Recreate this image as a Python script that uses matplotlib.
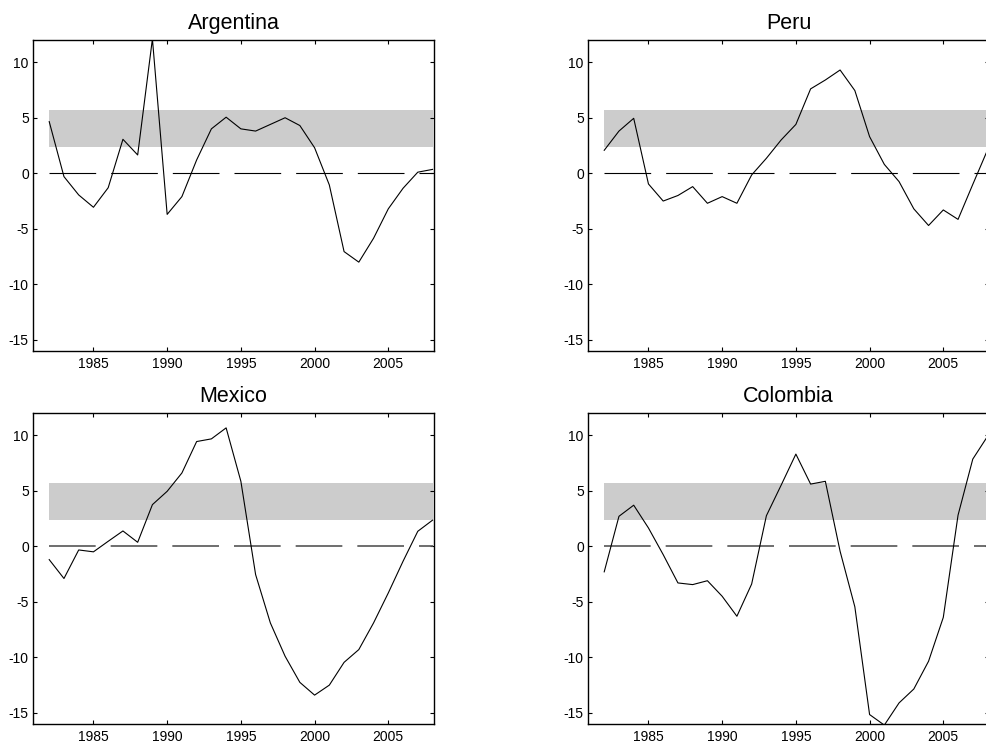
import matplotlib
matplotlib.use("Agg")
import matplotlib.pyplot as plt
import numpy as np

plt.rcParams['font.family'] = ['Liberation Sans', 'DejaVu Sans']
plt.rcParams['lines.scale_dashes'] = False
plt.rcParams['axes.unicode_minus'] = False

years = list(range(1982, 2009))

argentina = [4.65, -0.3, -1.95, -3.06, -1.3, 3.06, 1.65, 12.1, -3.7, -2.1,
             1.2, 4.0, 5.05, 4.0, 3.8, 4.4, 5.0, 4.3, 2.3, -1.05,
             -7.05, -8.0, -5.85, -3.2, -1.35, 0.1, 0.35]
peru = [2.07, 3.8, 4.95, -0.96, -2.5, -2.0, -1.2, -2.7, -2.1, -2.7,
        -0.15, 1.35, 3.0, 4.4, 7.6, 8.4, 9.3, 7.45, 3.3, 0.8,
        -0.75, -3.2, -4.7, -3.3, -4.15, -1.0, 2.1]
mexico = [-1.2, -2.9, -0.33, -0.5, 0.45, 1.38, 0.36, 3.75, 4.95, 6.6,
          9.43, 9.67, 10.66, 5.85, -2.55, -6.9, -9.9, -12.25, -13.4, -12.5,
          -10.45, -9.3, -6.9, -4.2, -1.35, 1.35, 2.35]
colombia = [-2.3, 2.7, 3.7, 1.65, -0.75, -3.3, -3.45, -3.1, -4.5, -6.3,
            -3.4, 2.75, 5.5, 8.3, 5.6, 5.85, -0.45, -5.45, -15.15, -16.1,
            -14.1, -12.85, -10.35, -6.4, 2.8, 7.85, 9.9]

countries = ["Argentina", "Peru", "Mexico", "Colombia"]
series = [argentina, peru, mexico, colombia]
band_low, band_high = 2.4, 5.7
yticks = [-15, -10, -5, 0, 5, 10]
xticks = [1985, 1990, 1995, 2000, 2005]

W, H = 987, 749
fig = plt.figure(figsize=(W / 100, H / 100), dpi=100)

def pos(left_px, top_px, w_px=401, h_px=311):
    return [left_px / W, (H - top_px - h_px) / H, w_px / W, h_px / H]

positions = [pos(33, 40), pos(588, 40), pos(33, 413), pos(588, 413)]
dash_colors = ['black', 'black', '#555555', '#555555']
dash_lw = [0.8, 0.8, 1.2, 1.2]

for name, vals, p, dc, dlw in zip(countries, series, positions, dash_colors, dash_lw):
    ax = fig.add_axes(p)
    ax.fill_between(years, [band_low] * len(years), [band_high] * len(years),
                    color='#cccccc', linewidth=0, zorder=1)
    ax.plot(years, [0] * len(years), color=dc, lw=dlw,
            linestyle=(0, (33.6, 10.8)), zorder=2)
    ax.plot(years, vals, color='black', lw=0.8, zorder=3)
    ax.set_xlim(1980.9, 2008.1)
    ax.set_ylim(-16, 12)
    ax.set_xticks(xticks)
    ax.set_yticks(yticks)
    ax.tick_params(direction='in', top=True, right=True, length=3.2,
                   width=0.8, labelsize=10)
    ax.tick_params(axis='x', pad=4.5)
    ax.tick_params(axis='y', pad=3)
    for s in ax.spines.values():
        s.set_linewidth(1.0)
    ax.set_title(name, fontsize=15.5, pad=8)

fig.savefig("out.png", dpi=100)
